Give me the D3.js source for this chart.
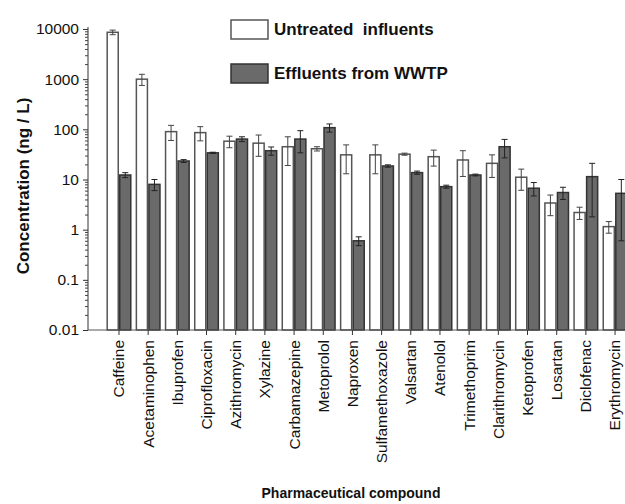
<!DOCTYPE html>
<html><head><meta charset="utf-8">
<script src="https://cdn.jsdelivr.net/npm/d3@7"></script>
<style>body{margin:0;background:#fff} text{font-family:"Liberation Sans",Arial,sans-serif;fill:#111}</style>
</head><body><svg id="c" width="625" height="504"></svg>
<script>
const categories = ["Caffeine","Acetaminophen","Ibuprofen","Ciprofloxacin","Azithromycin","Xylazine","Carbamazepine","Metoprolol","Naproxen","Sulfamethoxazole","Valsartan","Atenolol","Trimethoprim","Clarithromycin","Ketoprofen","Losartan","Diclofenac","Erythromycin"];
const influent   = [8600, 1000, 90, 86, 58, 53, 45, 41, 31, 31, 32, 28.5, 24.5, 21, 11.1, 3.4, 2.2, 1.15];
const influentSD = [900, 250, 30, 27, 15, 24, 26, 4, 18, 18, 1.5, 10, 13, 10, 5, 1.5, 0.6, 0.3];
const effluent   = [12.3, 8.0, 23.4, 34, 64, 37.5, 64, 108, 0.6, 18.6, 13.7, 7.2, 12.3, 45, 6.7, 5.5, 11.4, 5.3];
const effluentSD = [1.4, 2, 1.5, 1, 7, 7, 30, 20, 0.12, 1, 1, 0.5, 0.5, 18, 2, 1.5, 9.6, 4.7];
const yTicks = [0.01, 0.1, 1, 10, 100, 1000, 10000];
const seriesNames = ["Untreated  influents", "Effluents from WWTP"];
const seriesFill = ["#ffffff", "#6a6a6a"];
const seriesStroke = ["#555555", "#333333"];

const svg = d3.select("#c");
const mLeft = 88, mBottom = 330, mTop = 29;
const y = d3.scaleLog().domain([0.01, 10000]).range([mBottom, mTop]);
const step = 29.18;
const x = d3.scaleBand().domain(categories)
  .range([104.4, 104.4 + categories.length * step])
  .paddingInner(0.14).paddingOuter(0.07);
const xs = d3.scaleBand().domain([0, 1]).range([0, x.bandwidth()]);

const series = [influent, effluent];
const sds = [influentSD, effluentSD];

// bars
series.forEach((vals, s) => {
  svg.append("g").selectAll("rect").data(vals).join("rect")
    .attr("x", (d, i) => x(categories[i]) + xs(s) + 0.75)
    .attr("y", d => y(d))
    .attr("width", xs.bandwidth() - 1.5)
    .attr("height", d => y(0.01) - y(d))
    .attr("fill", seriesFill[s])
    .attr("stroke", seriesStroke[s])
    .attr("stroke-width", 1.5);
});

// error bars
series.forEach((vals, s) => {
  const g = svg.append("g").attr("stroke", s === 0 ? "#444" : "#222").attr("stroke-width", 1);
  vals.forEach((v, i) => {
    const cx = x(categories[i]) + xs(s) + xs.bandwidth() / 2;
    const hi = v + sds[s][i];
    const lo = Math.max(v - sds[s][i], 0.01);
    g.append("line").attr("x1", cx).attr("x2", cx).attr("y1", y(hi)).attr("y2", y(lo));
    g.append("line").attr("x1", cx - 3).attr("x2", cx + 3).attr("y1", y(hi)).attr("y2", y(hi));
    g.append("line").attr("x1", cx - 3).attr("x2", cx + 3).attr("y1", y(lo)).attr("y2", y(lo));
  });
});

// y axis
const yAxis = svg.append("g").attr("transform", `translate(${mLeft},0)`)
  .call(d3.axisLeft(y).tickValues(yTicks).tickFormat(d => String(d)).tickSize(5).tickSizeOuter(0));
yAxis.select(".domain").attr("stroke", "#333").attr("d", `M0,${mTop - 2}V${mBottom}`);
yAxis.selectAll(".tick line").attr("stroke", "#333");
yAxis.selectAll("text").attr("font-size", 15.5).attr("x", -9).style("fill", "#111");
const minor = [];
for (let e = -2; e < 4; e++) for (let m = 2; m <= 9; m++) minor.push(m * Math.pow(10, e));
svg.append("g").attr("transform", `translate(${mLeft},0)`)
  .call(d3.axisLeft(y).tickValues(minor).tickFormat("").tickSize(3).tickSizeOuter(0))
  .call(g => g.select(".domain").remove())
  .selectAll("line").attr("stroke", "#444");

// x axis
const xAxis = svg.append("g").attr("transform", `translate(0,${mBottom})`)
  .call(d3.axisBottom(x).tickSize(5).tickSizeOuter(0));
xAxis.select(".domain").attr("stroke", "#555").attr("d", `M${mLeft},0H625`);
xAxis.selectAll(".tick line").attr("stroke", "#333");
xAxis.selectAll("text")
  .attr("transform", "rotate(-90)")
  .attr("x", -10).attr("y", 0).attr("dy", "0.35em")
  .attr("text-anchor", "end")
  .attr("font-size", 15.5).style("fill", "#111");

// axis titles
svg.append("text").attr("transform", "translate(29,186) rotate(-90)")
  .attr("text-anchor", "middle").attr("font-size", 17).attr("font-weight", "bold")
  .text("Concentration (ng / L)");
svg.append("text").attr("x", 351).attr("y", 498)
  .attr("text-anchor", "middle").attr("font-size", 14).attr("font-weight", "bold")
  .text("Pharmaceutical compound");

// legend
seriesNames.forEach((n, s) => {
  const ly = 20 + s * 44;
  svg.append("rect").attr("x", 231).attr("y", ly).attr("width", 37).attr("height", 19)
    .attr("fill", seriesFill[s]).attr("stroke", seriesStroke[s]).attr("stroke-width", 1.5);
  svg.append("text").attr("x", 274).attr("y", ly + 15)
    .attr("font-size", 17).attr("font-weight", "bold").style("white-space", "pre")
    .text(n);
});
</script></body></html>
